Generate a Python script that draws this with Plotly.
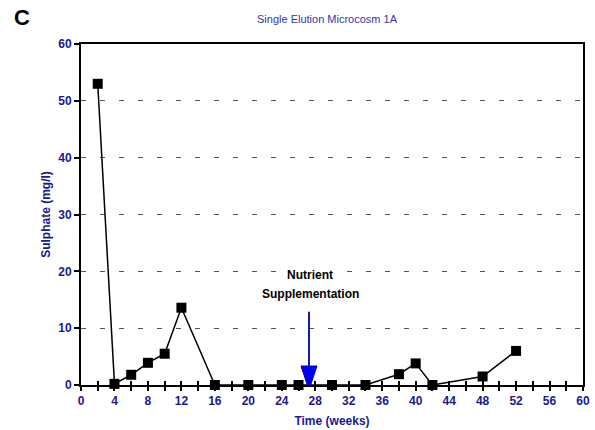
import plotly.graph_objects as go

weeks = [2, 4, 6, 8, 10, 12, 16, 20, 24, 26, 30, 34, 38, 40, 42, 48, 52]
sulphate = [53, 0.2, 1.8, 3.9, 5.5, 13.6, 0, 0, 0, 0, 0, 0, 1.9, 3.8, 0, 1.5, 6.0]

x_tickvals = list(range(0, 61, 2))
x_ticktext = [str(v) if v % 4 == 0 else "" for v in x_tickvals]
y_tickvals = [0, 10, 20, 30, 40, 50, 60]

arrow_x = 27.25
arrow_tail_y = 12.9

NAVY = "#1a1a8a"
FONT = "Liberation Sans, Arial, sans-serif"

ML, MR, MT, MB = 81, 12, 44, 45
W, H = 595, 430

fig = go.Figure()
fig.add_trace(go.Scatter(
    x=weeks, y=sulphate, mode="lines+markers",
    line=dict(color="black", width=1.5),
    marker=dict(symbol="square", size=10, color="black"),
    showlegend=False, cliponaxis=False,
))
fig.add_trace(go.Scatter(x=[0, 60], y=[0, 0], xaxis="x2", mode="lines",
                         line=dict(width=0), hoverinfo="skip", showlegend=False))

fig.update_layout(
    width=W, height=H,
    margin=dict(l=ML, r=MR, t=MT, b=MB),
    paper_bgcolor="white", plot_bgcolor="white",
    font=dict(family=FONT, color=NAVY),
    xaxis=dict(
        range=[0, 60], tickvals=x_tickvals, ticktext=x_ticktext, automargin=False,
        ticks="outside", ticklen=4, tickwidth=1.5, tickcolor="black",
        showline=True, linecolor="black", linewidth=2, mirror=True,
        showgrid=False, zeroline=False,
        tickfont=dict(family=FONT, size=12, color=NAVY, weight="bold"),
        title=dict(text="<b>Time (weeks)</b>", font=dict(size=12, color=NAVY), standoff=9),
    ),
    xaxis2=dict(
        range=[0, 60], overlaying="x", matches="x", tickvals=x_tickvals, automargin=False,
        ticks="inside", ticklen=4, tickwidth=1.5, tickcolor="black",
        showticklabels=False, showgrid=False, zeroline=False, showline=False,
    ),
    yaxis=dict(
        range=[0, 60], tickvals=y_tickvals, automargin=False,
        ticks="outside", ticklen=5, tickwidth=1.5, tickcolor="black",
        showline=True, linecolor="black", linewidth=2, mirror=True,
        showgrid=True, gridcolor="#555555", gridwidth=1, griddash="5px,14px",
        zeroline=False,
        tickfont=dict(family=FONT, size=12, color=NAVY, weight="bold"),
        title=dict(text="<b>Sulphate (mg/l)</b>", font=dict(size=12, color=NAVY), standoff=5),
    ),
)

fig.add_shape(type="line", x0=arrow_x, x1=arrow_x, y0=arrow_tail_y, y1=3,
              line=dict(color="#1a1aa0", width=2), layer="above")
fig.add_shape(type="path", xref="x", yref="y", xsizemode="pixel", ysizemode="pixel",
              xanchor=arrow_x, yanchor=0, path="M-8,19 L8,19 L0,-5 Z",
              fillcolor="#0000f0", line=dict(color="#0000c0", width=1), layer="above")

fig.add_annotation(x=arrow_x + 0.1, y=19.4, xref="x", yref="y", text="<b>Nutrient</b>",
                   showarrow=False, bgcolor="white", borderpad=0,
                   font=dict(family=FONT, size=12, color="black"))
fig.add_annotation(x=arrow_x + 0.2, y=16.0, xref="x", yref="y", text="<b>Supplementation</b>",
                   showarrow=False, font=dict(family=FONT, size=12, color="black"))


def px_to_paper(px, py):
    return (px - ML) / (W - ML - MR), (H - MB - py) / (H - MT - MB)


tx, ty = px_to_paper(327, 19)
fig.add_annotation(x=tx, y=ty, xref="paper", yref="paper", xanchor="center", yanchor="middle",
                   text="Single Elution Microcosm 1A", showarrow=False,
                   font=dict(family=FONT, size=11, color="#3535a0"))
cx, cy = px_to_paper(21.5, 17)
fig.add_annotation(x=cx, y=cy, xref="paper", yref="paper", xanchor="center", yanchor="middle",
                   text="<b>C</b>", showarrow=False,
                   font=dict(family=FONT, size=22, color="black"))

fig.write_html("out.html")
